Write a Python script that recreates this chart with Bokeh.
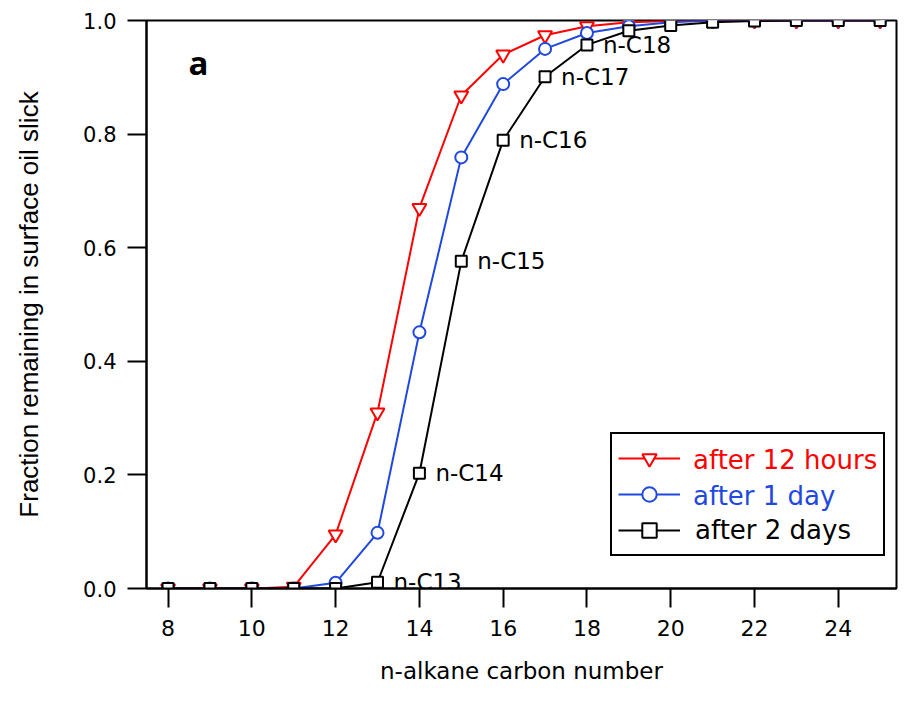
from bokeh.plotting import figure
from bokeh.models import (Range1d, FixedTicker, NumeralTickFormatter, Legend, LegendItem, Label)
from bokeh.core.properties import value
from bokeh.embed import file_html
from bokeh.resources import INLINE

carbon = [8, 9, 10, 11, 12, 13, 14, 15, 16, 17, 18, 19, 20, 21, 22, 23, 24, 25]
after_12h = [0.0, 0.0, 0.0, 0.003, 0.095, 0.31, 0.67, 0.868, 0.94, 0.974, 0.99, 0.997, 0.999, 1.0, 1.0, 1.0, 1.0, 1.0]
after_1d = [0.0, 0.0, 0.0, 0.0, 0.01, 0.098, 0.451, 0.759, 0.888, 0.95, 0.978, 0.99, 0.997, 1.0, 1.0, 1.0, 1.0, 1.0]
after_2d = [0.0, 0.0, 0.0, 0.0, 0.0, 0.011, 0.203, 0.576, 0.789, 0.901, 0.957, 0.982, 0.991, 0.997, 0.999, 1.0, 1.0, 1.0]
series_labels = ["after 12 hours", "after 1 day", "after 2 days"]
annot_carbon = [13, 14, 15, 16, 17, 18]
annot_text = ["n-C13", "n-C14", "n-C15", "n-C16", "n-C17", "n-C18"]
x_ticks = [8, 10, 12, 14, 16, 18, 20, 22, 24]
y_ticks = [0.0, 0.2, 0.4, 0.6, 0.8, 1.0]

RED = "#ff0000"
BLUE = "#1f48e0"
BLACK = "#000000"

p = figure(width=898, height=686, output_backend="svg", toolbar_location=None,
           x_range=Range1d(7.485, 25.39), y_range=Range1d(0, 1),
           min_border_left=146, min_border_right=2, min_border_top=20, min_border_bottom=94)
p.background_fill_color = "white"
p.border_fill_color = "white"
p.outline_line_color = "black"
p.outline_line_width = 2
p.xgrid.visible = False
p.ygrid.visible = False

for ax in (p.xaxis[0], p.yaxis[0]):
    ax.axis_line_color = "black"
    ax.axis_line_width = 2
    ax.major_tick_line_color = "black"
    ax.major_tick_line_width = 2
    ax.major_tick_out = 19
    ax.major_tick_in = 0
    ax.minor_tick_line_color = None
    ax.major_label_text_font = "DejaVu Sans"
    ax.major_label_text_color = "black"
    ax.axis_label_text_font_style = "normal"
    ax.axis_label_text_color = "black"

p.xaxis.ticker = FixedTicker(ticks=x_ticks)
p.yaxis.ticker = FixedTicker(ticks=y_ticks)
p.yaxis.formatter = NumeralTickFormatter(format="0.0")
p.xaxis.major_label_text_font_size = "22px"
p.yaxis.major_label_text_font_size = "21px"
p.xaxis.major_label_standoff = 12
p.yaxis.major_label_standoff = 11
p.xaxis.axis_label = "n-alkane carbon number"
p.xaxis.axis_label_text_font = "DejaVu Sans"
p.xaxis.axis_label_text_font_size = "23px"
p.xaxis.axis_label_standoff = 19
p.yaxis.axis_label = "Fraction remaining in surface oil slick"
p.yaxis.axis_label_text_font = "Liberation Sans"
p.yaxis.axis_label_text_font_size = "26px"
p.yaxis.axis_label_standoff = 36

r_line = p.line(carbon, after_12h, line_color=RED, line_width=2)
r_pts = p.scatter(carbon, after_12h, marker="inverted_triangle", size=14, line_color=RED,
                  line_width=2, fill_color="white")
b_line = p.line(carbon, after_1d, line_color=BLUE, line_width=2)
b_pts = p.scatter(carbon, after_1d, marker="circle", size=12, line_color=BLUE,
                  line_width=2, fill_color="white")
k_line = p.line(carbon, after_2d, line_color=BLACK, line_width=2)
k_pts = p.scatter(carbon, after_2d, marker="square", size=11, line_color=BLACK,
                  line_width=2, fill_color="white")

annot_y = [after_2d[carbon.index(c)] for c in annot_carbon]
p.text(annot_carbon, annot_y, text=annot_text, x_offset=16, y_offset=0,
       text_font=value("DejaVu Sans"), text_font_size=value("23px"),
       text_baseline="middle", text_align="left", text_color="black")

p.add_layout(Label(x=42, y=526, x_units="screen", y_units="screen", text="a",
                   text_font="Open Sans", text_font_size="33px", text_font_style="bold",
                   text_baseline="alphabetic", text_color="black"))

# legend: box, glyphs and black label; coloured labels overlaid with identical geometry
FS = "\u2007"
leg_common = dict(location=(464, 32), padding=6, spacing=0, glyph_height=36, glyph_width=62,
                  label_height=36, label_standoff=15, label_text_font="DejaVu Sans",
                  label_text_font_size="26px")
main_leg = Legend(items=[LegendItem(label=FS * 11, renderers=[r_line, r_pts]),
                         LegendItem(label=FS * 11, renderers=[b_line, b_pts]),
                         LegendItem(label=series_labels[2], renderers=[k_line, k_pts])],
                  border_line_color="black", border_line_width=2, border_line_alpha=1,
                  background_fill_color="white", background_fill_alpha=1,
                  label_text_color=BLACK, **leg_common)
p.add_layout(main_leg, "center")

dummy = p.line([], [], line_alpha=0)
for i, col in enumerate([RED, BLUE]):
    items = []
    for j in range(3):
        items.append(LegendItem(label=series_labels[j] if j == i else " ", renderers=[dummy]))
    lg = Legend(items=items, border_line_alpha=0, background_fill_alpha=0,
                label_text_color=col, **leg_common)
    p.add_layout(lg, "center")

open("out.html", "w").write(file_html(p, INLINE))
